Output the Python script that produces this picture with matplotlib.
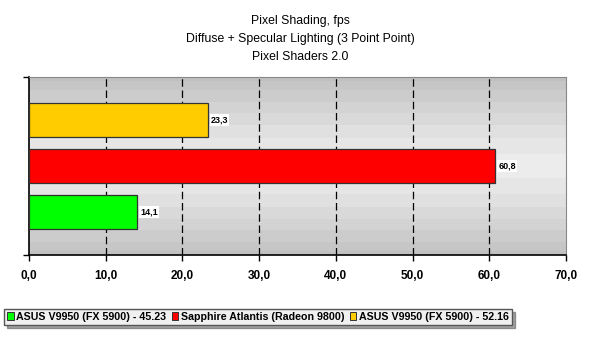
import matplotlib
matplotlib.use('Agg')
import matplotlib.pyplot as plt
import numpy as np

# data
labels = ['ASUS V9950 (FX 5900) - 45.23',
          'Sapphire Atlantis (Radeon 9800)',
          'ASUS V9950 (FX 5900) - 52.16']
values = [14.1, 60.8, 23.3]
colors = ['#00ff00', '#ff0000', '#ffcc00']
xticks = [0, 10, 20, 30, 40, 50, 60, 70]

plt.rcParams['font.family'] = ['Liberation Sans', 'DejaVu Sans']

fig = plt.figure(figsize=(6, 3.44), dpi=100)
ax = fig.add_axes([29 / 600, 89 / 344, 537 / 600, 178 / 344])

y0, y1 = -0.935, 2.935

# banded grey background, dark at the edges, light in the middle
t = np.linspace(-1, 1, 200)
shade = 0.925 - 0.17 * np.abs(t) ** 1.3
shade = np.round(shade * 40) / 40
ax.imshow(shade[:, None], cmap='gray', vmin=0, vmax=1, aspect='auto',
          extent=[0, 70, y0, y1], zorder=0, interpolation='nearest')

y = np.arange(len(values))
bars = ax.barh(y, values, height=0.76, color=colors, edgecolor='#333333',
               linewidth=0.9, zorder=3)
for b, v in zip(bars, values):
    ax.text(v + 0.4, b.get_y() + b.get_height() / 2, ('%.1f' % v).replace('.', ','),
            fontsize=6.5, fontweight='bold', va='center', ha='left', zorder=4,
            bbox=dict(facecolor='white', edgecolor='none', pad=0.8))

ax.set_xlim(0, 70)
ax.set_ylim(y0, y1)
ax.set_xticks(xticks)
ax.set_xticklabels([('%.1f' % v).replace('.', ',') for v in xticks],
                   fontsize=8.5, fontweight='bold')
ax.set_yticks([y0, y1])
ax.set_yticklabels([])
ax.tick_params(axis='x', direction='out', length=4, pad=7, width=1)
ax.tick_params(axis='y', direction='out', length=4, width=1)
for v in xticks[1:-1]:
    ax.axvline(v, color='black', linestyle=(0, (6, 3)), linewidth=0.9, zorder=2)
for s in ['top', 'right']:
    ax.spines[s].set_color('#888888')
    ax.spines[s].set_linewidth(0.8)
for s in ['left', 'bottom']:
    ax.spines[s].set_linewidth(1.2)

fig.text(0.5, 0.94, 'Pixel Shading, fps', ha='center', va='center', fontsize=8.8)
fig.text(0.5, 0.887, 'Diffuse + Specular Lighting (3 Point Point)', ha='center',
         va='center', fontsize=8.8)
fig.text(0.5, 0.835, 'Pixel Shaders 2.0', ha='center', va='center', fontsize=8.8)

handles = [plt.Rectangle((0, 0), 1, 1, facecolor=c, edgecolor='#333333', linewidth=0.7)
           for c in colors]
leg = fig.legend(handles, labels, loc='center left', bbox_to_anchor=(4 / 600, 1 - 317 / 344),
                 ncol=3, prop={'weight': 'bold', 'size': 7.7}, frameon=True,
                 fancybox=False, shadow=True, handlelength=0.6, handleheight=0.8,
                 handletextpad=0.25, columnspacing=0.5, borderpad=0.3,
                 borderaxespad=0)
leg.get_frame().set_edgecolor('#555555')
leg.get_frame().set_facecolor('#f0f0f0')

fig.savefig('out.png', dpi=100)
